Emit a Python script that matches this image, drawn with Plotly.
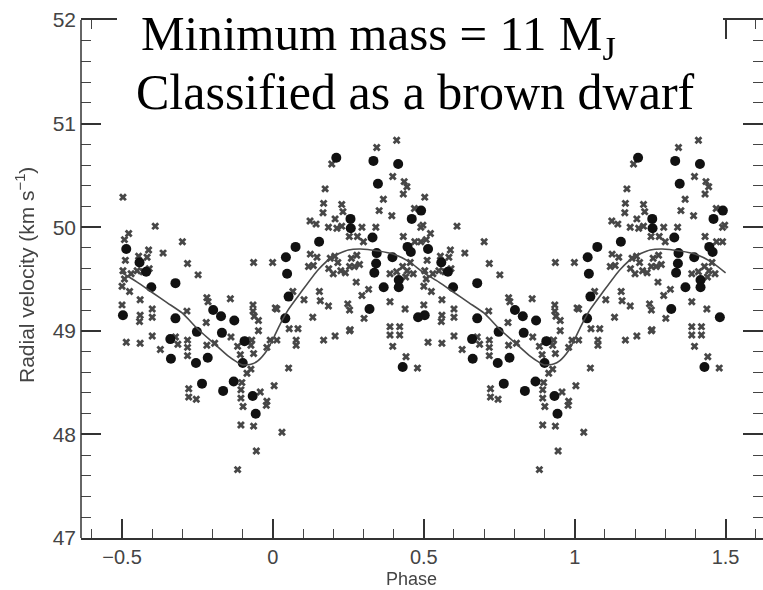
import plotly.graph_objects as go

# ---- data (one phase cycle, repeated at +1) ----
curve_phase = [-0.50, -0.45, -0.40, -0.35, -0.30, -0.25, -0.20, -0.15, -0.12, -0.10, -0.07,
               -0.05, -0.02, 0.00, 0.025, 0.05, 0.09, 0.15, 0.20, 0.25, 0.29, 0.35, 0.40, 0.45, 0.50]
curve_rv = [49.56, 49.47, 49.37, 49.27, 49.17, 49.02, 48.89, 48.76, 48.70, 48.67, 48.68,
            48.71, 48.81, 48.92, 49.07, 49.20, 49.36, 49.59, 49.72, 49.78, 49.79, 49.77, 49.74, 49.67, 49.56]

circ_phase = [-0.486, -0.497, -0.442, -0.420, -0.403, -0.323, -0.323, -0.340, -0.338, -0.252,
              -0.198, -0.172, -0.128, -0.169, -0.094, -0.255, -0.216, -0.235, -0.165, -0.130,
              -0.100, -0.067, -0.057, 0.043, 0.047, 0.052, 0.041, 0.075, 0.153, 0.257,
              0.258, 0.330, 0.333, 0.348, 0.210, 0.415, 0.344, 0.342, 0.336, 0.367,
              0.320, 0.396, 0.417, 0.417, 0.491, 0.460, 0.446, 0.457, 0.481, 0.430]
circ_rv = [49.79, 49.15, 49.66, 49.57, 49.42, 49.46, 49.12, 48.92, 48.73, 48.99,
           49.20, 49.14, 49.10, 48.98, 48.90, 48.69, 48.74, 48.49, 48.42, 48.51,
           48.69, 48.37, 48.20, 49.71, 49.55, 49.33, 49.12, 49.81, 49.86, 50.08,
           49.99, 49.90, 50.64, 50.42, 50.67, 50.61, 49.75, 49.65, 49.56, 49.42,
           49.21, 49.71, 49.49, 49.42, 50.16, 50.08, 49.81, 49.76, 49.13, 48.65]

cross_phase = [-0.497, -0.492, -0.478, -0.489, -0.497, -0.492, -0.500, -0.475, -0.500, -0.440,
               -0.390, -0.412, -0.445, -0.417, -0.364, -0.300, -0.470, -0.450, -0.430, -0.410,
               -0.440, -0.442, -0.400, -0.400, -0.283, -0.248, -0.285, -0.219, -0.215, -0.221,
               -0.141, -0.066, -0.066, -0.062, -0.048, -0.048, -0.064, -0.001, 0.008,
               -0.486, -0.440, -0.400, -0.373, -0.323, -0.315, -0.283, -0.283, -0.283, -0.279,
               -0.279, -0.254, -0.219, -0.193, -0.139, -0.117, -0.108, -0.086, -0.070, -0.073,
               -0.064, -0.086, -0.073, -0.103, -0.106, -0.106, -0.099, -0.106, -0.064, -0.117,
               -0.055, -0.042, -0.020, -0.022, 0.004, 0.030, 0.052, -0.020, -0.009, 0.013,
               0.077, 0.077, 0.168, 0.206, 0.254, 0.388, 0.397, 0.420, 0.441, 0.479,
               0.013, 0.054, 0.083, 0.132, 0.103, 0.066, 0.124, 0.146, 0.134, 0.118,
               0.154, 0.157, 0.184, 0.248, 0.254, 0.173, 0.168, 0.166, 0.228, 0.232,
               0.123, 0.143, 0.184, 0.206, 0.228, 0.212, 0.295, 0.341, 0.195, 0.344,
               0.366, 0.352, 0.397, 0.394, 0.410, 0.435, 0.444, 0.432, 0.469, 0.432,
               0.470, 0.490, 0.280, 0.300, 0.253, 0.287, 0.270, 0.254, 0.278, 0.260,
               0.190, 0.205, 0.215, 0.185, 0.200, 0.225, 0.240, 0.276, 0.295, 0.317,
               0.256, 0.302, 0.388, 0.438, 0.388, 0.420, 0.388, 0.410, 0.430, 0.445,
               0.455, 0.465, 0.440, 0.490, 0.497]
cross_rv = [50.29, 49.88, 49.94, 49.68, 49.58, 49.50, 49.43, 49.38, 49.25, 49.30,
            50.01, 49.78, 49.72, 49.71, 49.75, 49.86, 49.55, 49.58, 49.57, 49.60,
            49.15, 49.09, 49.21, 49.13, 49.65, 49.54, 49.19, 49.32, 49.28, 49.08,
            49.31, 49.25, 49.19, 49.14, 49.10, 49.00, 49.66, 49.66, 49.22,
            48.89, 48.88, 48.95, 48.82, 48.94, 48.87, 48.91, 48.84, 48.76, 48.44,
            48.36, 48.34, 48.86, 48.88, 48.94, 48.85, 48.77, 48.91, 48.91, 48.86,
            48.78, 48.59, 48.63, 48.50, 48.43, 48.35, 48.27, 48.09, 48.08, 47.66,
            47.84, 48.41, 48.32, 48.28, 48.47, 48.02, 48.64, 48.84, 48.91, 48.91,
            48.91, 48.86, 48.91, 48.95, 49.00, 48.96, 48.85, 48.96, 48.75, 48.64,
            49.21, 49.02, 49.02, 49.13, 49.30, 49.38, 49.74, 49.71, 49.63, 49.62,
            49.38, 49.29, 49.24, 49.26, 49.20, 50.37, 50.23, 50.14, 50.22, 50.15,
            50.06, 50.03, 50.00, 50.08, 50.01, 49.99, 50.00, 50.00, 50.61, 50.77,
            50.27, 50.16, 50.49, 50.11, 50.84, 50.44, 50.39, 50.32, 50.18, 49.91,
            49.86, 49.86, 49.91, 49.86, 49.91, 49.64, 49.62, 49.62, 49.73, 49.70,
            49.70, 49.72, 49.66, 49.60, 49.55, 49.58, 49.56, 49.47, 49.34, 49.40,
            49.01, 49.12, 49.28, 49.21, 49.04, 49.04, 49.55, 49.57, 49.62, 49.58,
            49.66, 49.55, 49.52, 50.00, 50.02]

x_tickvals = [-0.5, 0, 0.5, 1, 1.5]
x_ticktext = ["\u22120.5", "0", "0.5", "1", "1.5"]
y_tickvals = [47, 48, 49, 50, 51, 52]

def two_cycles(ph, rv):
    return list(ph) + [p + 1 for p in ph], list(rv) + list(rv)

cx, cy = two_cycles(cross_phase, cross_rv)
dx, dy = two_cycles(circ_phase, circ_rv)
lx = list(curve_phase) + [p + 1 for p in curve_phase[1:]]
ly = list(curve_rv) + list(curve_rv[1:])

fig = go.Figure()
fig.add_trace(go.Scatter(x=cx, y=cy, mode="markers",
                         marker=dict(symbol="x", size=7, color="#262626",
                                     line=dict(width=0)), opacity=0.85,
                         hoverinfo="skip", showlegend=False))
fig.add_trace(go.Scatter(x=dx, y=dy, mode="markers",
                         marker=dict(symbol="circle", size=10, color="#111111",
                                     line=dict(width=0)),
                         hoverinfo="skip", showlegend=False))
fig.add_trace(go.Scatter(x=lx, y=ly, mode="lines",
                         line=dict(color="#4a4a4a", width=1.6, shape="spline", smoothing=0.6),
                         hoverinfo="skip", showlegend=False))

L, R, T, B = 81, 0, 20, 52
W, H = 763, 590
pw, ph = W - L - R, H - T - B

def px(xp):
    return (xp - L) / pw

def py(yp):
    return (H - B - yp) / ph

fig.update_layout(
    width=W, height=H,
    margin=dict(l=L, r=R, t=T, b=B),
    paper_bgcolor="white", plot_bgcolor="white",
    font=dict(family="Liberation Sans, Arial, sans-serif", color="#444444"),
    xaxis=dict(range=[-0.636, 1.624], showgrid=False, zeroline=False,
               showline=True, linecolor="#333333", linewidth=1.5, mirror="allticks",
               ticks="inside", ticklen=19, tickwidth=1.5, tickcolor="#333333",
               tickvals=x_tickvals, ticktext=x_ticktext, ticklabelstandoff=0,
               tickfont=dict(size=20, color="#444444"),
               minor=dict(dtick=0.1, tick0=0, ticks="inside", ticklen=9,
                          tickwidth=1.3, tickcolor="#444444")),
    yaxis=dict(range=[47, 52], showgrid=False, zeroline=False,
               showline=False, mirror="allticks",
               ticks="inside", ticklen=20, tickwidth=1.5, tickcolor="#333333",
               tickvals=y_tickvals, ticklabelstandoff=4,
               tickfont=dict(size=21, color="#444444"),
               minor=dict(dtick=0.2, tick0=47, ticks="inside", ticklen=10,
                          tickwidth=1.3, tickcolor="#444444")),
    shapes=[
        dict(type="line", xref="paper", yref="paper", x0=0, x1=0, y0=0, y1=1,
             line=dict(color="#333333", width=1.5)),
        dict(type="rect", xref="paper", yref="paper", x0=px(117), x1=px(723),
             y0=py(125), y1=py(-10), fillcolor="white", line=dict(width=0), layer="above"),
    ],
    annotations=[
        dict(text="Minimum mass = 11 M<sub>J</sub>", xref="paper", yref="paper",
             x=px(139), y=py(36), xanchor="left", yanchor="middle", showarrow=False,
             font=dict(family="Liberation Serif, serif", size=49, color="black")),
        dict(text="Classified as a brown dwarf", xref="paper", yref="paper",
             x=px(134), y=py(92), xanchor="left", yanchor="middle", showarrow=False,
             font=dict(family="Liberation Serif, serif", size=50, color="black")),
        dict(text="Phase", xref="paper", yref="paper", x=px(411), y=py(589.5),
             xanchor="center", yanchor="bottom", showarrow=False, borderpad=0,
             font=dict(size=18, color="#444444")),
        dict(text="Radial velocity (km s<sup>\u22121</sup>)", xref="paper", yref="paper",
             x=px(25), y=py(275), xanchor="center", yanchor="middle", textangle=-90,
             showarrow=False, font=dict(size=21, color="#444444")),
    ],
)

fig.write_html("out.html")
